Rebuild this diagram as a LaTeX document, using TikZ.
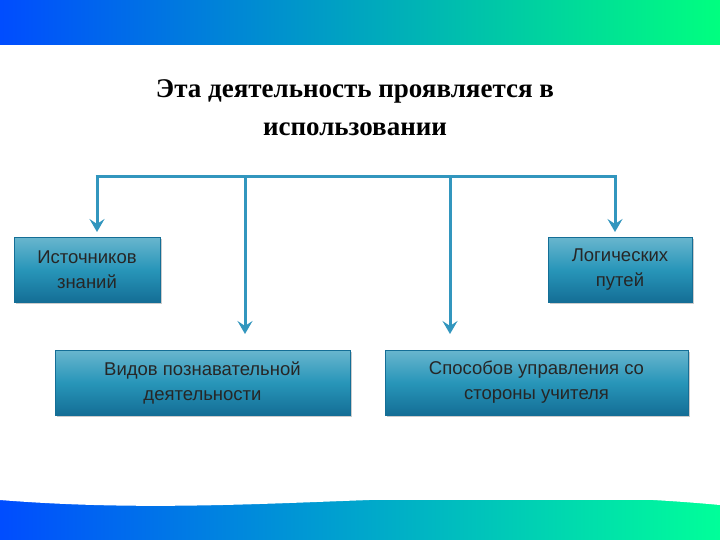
\documentclass[tikz,border=0pt]{standalone}
\usepackage{fontspec}
\setmainfont{Liberation Serif}
\newfontfamily\boxfont{Liberation Sans}
\usetikzlibrary{arrows.meta,shadows}
\definecolor{lc}{RGB}{50,150,190}
\definecolor{bx}{RGB}{40,150,185}
\definecolor{bxd}{RGB}{20,110,150}
\tikzset{
 box/.style={draw=bxd,line width=0.6pt,top color=bx!70!white,bottom color=bxd,middle color=bx,
   drop shadow={opacity=0.4},font=\boxfont\fontsize{18.5}{25}\selectfont,text=black!85,align=center,inner sep=0pt},
 conn/.style={draw=lc,line width=3pt},
 arr/.style={conn,-{Stealth[length=13pt,width=15pt,inset=5pt]}}
}
\begin{document}
\begin{tikzpicture}[x=1pt,y=-1pt]
\useasboundingbox (0,0) rectangle (720,540);
\fill[white] (0,0) rectangle (720,540);
\shade[left color=blue!70!cyan,right color=green!50!cyan] (0,0) rectangle (720,45);
\fill[white] (0,55) .. controls (200,40) and (500,70) .. (720,50) -- (720,70) -- (0,70) -- cycle;
\shade[left color=blue!70!cyan,right color=green!40!cyan] (0,500) rectangle (720,540);
\fill[white] (0,500) .. controls (250,520) and (450,480) .. (720,505) -- (720,490) -- (0,490) -- cycle;
\node[font=\bfseries\fontsize{27}{38}\selectfont,align=center] (t) at (355,108) {Эта деятельность проявляется в\\использовании};
\coordinate (h1) at (97,177);
\coordinate (h2) at (245,177);
\coordinate (h3) at (450,177);
\coordinate (h4) at (615,177);
\draw[conn] ([xshift=-1.5pt]h1) -- ([xshift=1.5pt]h4);
\node[box,minimum width=146pt,minimum height=65pt] (b1) at (87,269.5) {Источников\\знаний};
\node[box,minimum width=144pt,minimum height=65pt] (b2) at (620,269.5) {Логических\\путей};
\node[box,minimum width=295pt,minimum height=65pt] (b3) at (202.5,382.5) {Видов познавательной\\деятельности};
\node[box,minimum width=303pt,minimum height=65pt] (b4) at (536.5,382.5) {Способов управления со\\стороны учителя};
\draw[arr] (h1) -- (97,232);
\draw[arr] (h4) -- (615,232);
\draw[arr] (h2) -- (245,334);
\draw[arr] (h3) -- (450,334);
\end{tikzpicture}
\end{document}
